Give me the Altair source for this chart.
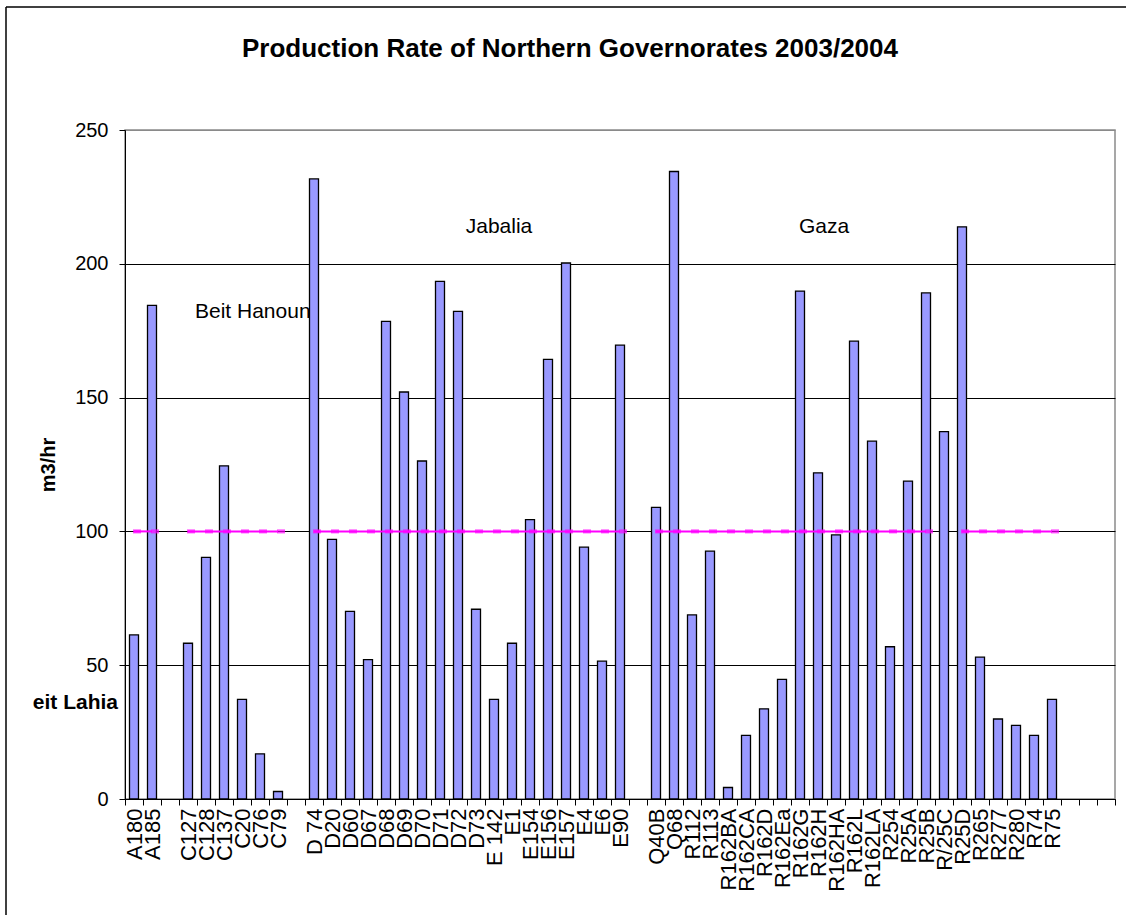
import altair as alt
import pandas as pd

# ---------------- data ----------------
categories = ["A180", "A185", " ",
              "C127", "C128", "C137", "C20", "C76", "C79", "  ",
              "D 74", "D20", "D60", "D67", "D68", "D69", "D70", "D71", "D72", "D73",
              "E 142", "E1", "E154", "E156", "E157", "E4", "E6", "E90", "   ",
              "Q40B", "Q68", "R112", "R113", "R162BA", "R162CA", "R162D", "R162Ea",
              "R162G", "R162H", "R162HA", "R162L", "R162LA", "R254", "R25A", "R25B",
              "R/25C", "R25D", "R265", "R277", "R280", "R74", "R75",
              "    ", "     ", "      "]

rates = [61.3, 184.5, None,
         58.2, 90.3, 124.5, 37.2, 16.9, 2.8, None,
         231.7, 97.0, 70.1, 52.1, 178.5, 152.1, 126.3, 193.4, 182.2, 70.9,
         37.2, 58.2, 104.4, 164.3, 200.3, 94.1, 51.5, 169.6, None,
         109.0, 234.5, 68.8, 92.6, 4.3, 23.8, 33.7, 44.7,
         189.8, 121.9, 98.7, 171.1, 133.7, 56.9, 118.8, 189.1,
         137.3, 213.8, 53.0, 29.9, 27.5, 23.8, 37.2,
         None, None, None]

# segment id of the 100 m3/hr reference series (None = no point)
target_segment = [1, 1, None,
                  2, 2, 2, 2, 2, 2, None,
                  3, 3, 3, 3, 3, 3, 3, 3, 3, 3,
                  3, 3, 3, 3, 3, 3, 3, 3, None,
                  4, 4, 4, 4, 4, 4, 4, 4,
                  4, 4, 4, 4, 4, 4, 4, 4,
                  None, 5, 5, 5, 5, 5, 5,
                  None, None, None]
target_value = 100

area_labels = ["Beit Hanoun", "Jabalia", "Gaza", "eit Lahia"]
area_wells = ["C128", "E 142", "R162H", "A180"]
area_y = [182, 213.7, 213.7, 36]
area_dx = [-11, 5, 6, -16]
area_align = ["left", "center", "center", "right"]
area_weight = ["normal", "normal", "normal", "bold"]

title_text = "Production Rate of Northern Governorates 2003/2004"
y_ticks = [0, 50, 100, 150, 200, 250]

# ---------------- frames ----------------
bars_df = pd.DataFrame({"well": categories, "rate": rates}).dropna()
line_df = pd.DataFrame({"well": categories, "seg": target_segment})
line_df = line_df.dropna()
line_df["target"] = target_value

FONT = "Liberation Sans"

x_enc = alt.X("well:N",
              scale=alt.Scale(domain=categories, paddingInner=0, paddingOuter=0),
              axis=alt.Axis(title=None, labelAngle=270, labelFont=FONT, labelFontSize=22,
                            labelColor="black", tickBand="extent", tickSize=6,
                            tickColor="black", domainColor="black", labelPadding=3,
                            grid=False, labelOverlap=False, labelBound=False))

y_scale = alt.Scale(domain=[0, 250], nice=False)

bars = alt.Chart(bars_df).mark_bar(size=9, fill="#9999FF", stroke="black",
                                   strokeWidth=1.3).encode(
    x=x_enc,
    y=alt.Y("rate:Q", scale=y_scale,
            axis=alt.Axis(values=y_ticks, title="m3/hr", titleFont=FONT,
                          titleFontSize=20, titleFontWeight="bold", titleColor="black",
                          titleAngle=270, titleX=-77, titleY=334.5, titleAlign="center",
                          titleBaseline="middle",
                          labelFont=FONT, labelFontSize=20, labelColor="black",
                          labelPadding=11, tickSize=6, tickColor="black",
                          domainColor="black",
                          gridColor=alt.condition(alt.datum.value == 250,
                                                  alt.value("#8a8a8a"),
                                                  alt.value("black")),
                          gridWidth=1)),
)

line = alt.Chart(line_df).mark_line(color="#FF00FF", strokeWidth=2).encode(
    x=alt.X("well:N", scale=alt.Scale(domain=categories)),
    y=alt.Y("target:Q", scale=y_scale),
    detail="seg:N",
)

dashes = alt.Chart(line_df).mark_tick(color="#FF00FF", size=8, thickness=4,
                                      xOffset=3).encode(
    x=alt.X("well:N", scale=alt.Scale(domain=categories)),
    y=alt.Y("target:Q", scale=y_scale),
)

labels_df = pd.DataFrame({"well": area_wells, "y": area_y, "text": area_labels,
                          "dx": area_dx, "align": area_align, "weight": area_weight})

text_layers = []
for i in range(len(area_labels)):
    text_layers.append(
        alt.Chart(labels_df.iloc[[i]]).mark_text(
            font=FONT, fontSize=21,
            fontWeight=area_weight[i], align=area_align[i], baseline="middle",
            dx=area_dx[i], color="black").encode(
            x=alt.X("well:N", scale=alt.Scale(domain=categories)),
            y=alt.Y("y:Q", scale=y_scale),
            text="text:N")
    )

title = alt.Chart(pd.DataFrame({"t": [title_text]})).mark_text(
    font=FONT, fontSize=26, fontWeight="bold", align="center", baseline="alphabetic",
    color="black").encode(x=alt.value(445), y=alt.value(-73), text="t:N")

# outer frame of the chart object (cut off at right and bottom)
frame_left = alt.Chart(pd.DataFrame({"a": [0]})).mark_rule(
    color="black", strokeWidth=1.5).encode(
    x=alt.value(-119), y=alt.value(-123), y2=alt.value(800))
frame_top = alt.Chart(pd.DataFrame({"a": [0]})).mark_rule(
    color="black", strokeWidth=1.5).encode(
    x=alt.value(-119), x2=alt.value(1010), y=alt.value(-123))

chart = alt.layer(bars, line, dashes, *text_layers, title, frame_left, frame_top).properties(
    width=990, height=669,
    padding={"left": 125, "top": 130, "right": 11, "bottom": 116},
    autosize=alt.AutoSizeParams(type="none"),
    background="white",
).configure_view(stroke="#8a8a8a", strokeWidth=1.5)

chart.save("out.html", embed_options={"renderer": "svg", "actions": False})
